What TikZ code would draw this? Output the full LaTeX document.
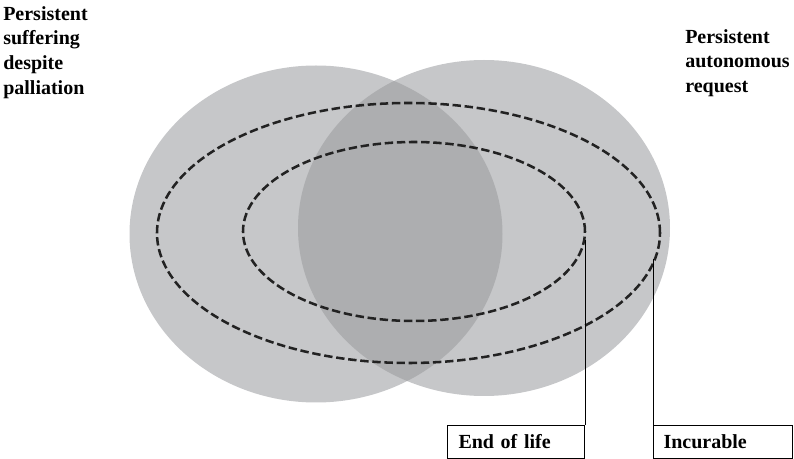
\documentclass[tikz,border=0pt]{standalone}
\usepackage{fontspec}
\setmainfont{Liberation Serif}
\usetikzlibrary{shapes.geometric}
\definecolor{lightg}{HTML}{C6C7C9}
\definecolor{darkg}{HTML}{ADAEB0}
\definecolor{dashc}{HTML}{222222}
\begin{document}
\begin{tikzpicture}[x=0.75pt,y=-0.75pt,
  lbl/.style={font=\bfseries\fontsize{15}{18.5}\selectfont, align=left, inner sep=0, anchor=north west},
  labbox/.style={draw, line width=0.75pt, font=\bfseries\fontsize{15}{18}\selectfont, minimum height=24.75pt, align=left, anchor=north west, inner ysep=0pt},
  ring/.style={ellipse, draw=dashc, line width=1.9pt, dash pattern=on 6.3pt off 2.8pt, inner sep=0},
  leader/.style={line width=0.75pt}]
\useasboundingbox (0,0) rectangle (794,459);
% two overlapping discs
\fill[lightg] (316,234) ellipse [x radius=139.875pt, y radius=126.375pt];
\fill[lightg] (484,228) ellipse [x radius=139.5pt, y radius=126pt];
\begin{scope}
  \clip (316,234) ellipse [x radius=139.875pt, y radius=126.375pt];
  \fill[darkg] (484,228) ellipse [x radius=139.5pt, y radius=126pt];
\end{scope}
% dashed rings
\node[ring, minimum width=377.25pt, minimum height=195pt] (outer) at (408.5,233) {};
\node[ring, minimum width=256.5pt, minimum height=134.25pt] (inner) at (414,231.5) {};
% boxes
\node[labbox, inner xsep=8.25pt, text width=86.25pt] (eol) at (447,425) {End of life};
\node[labbox, inner xsep=7.5pt, text width=89.25pt] (inc) at (653,425) {Incurable};
% leaders
\draw[leader] (eol.north east) -- (eol.north east |- inner.-3.3);
\draw[leader] (inc.north west) -- (inc.north west |- outer.-6.3);
% labels
\node[lbl] (suff) at (3,6) {Persistent\\suffering\\despite\\palliation};
\node[lbl] (auto) at (685,29) {Persistent\\autonomous\\request};
\end{tikzpicture}
\end{document}
